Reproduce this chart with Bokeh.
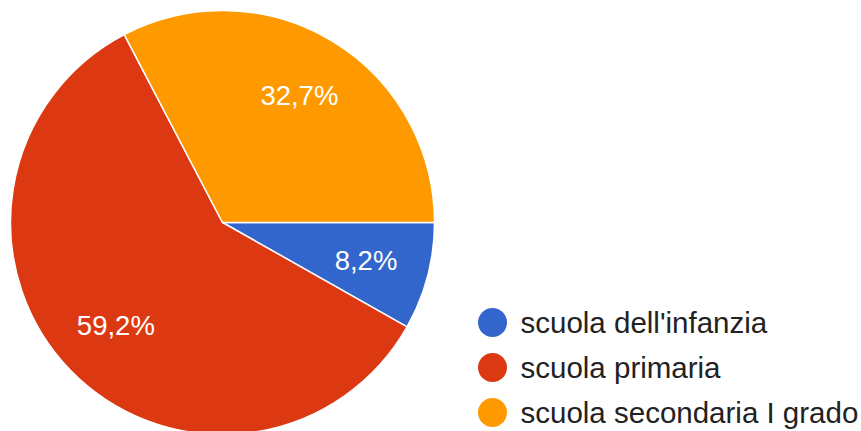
import numpy as np
from bokeh.plotting import figure
from bokeh.models import Range1d, ColumnDataSource
from bokeh.core.properties import value
from bokeh.embed import file_html
from bokeh.resources import INLINE

categories = ["scuola dell'infanzia", "scuola primaria", "scuola secondaria I grado"]
percentages = [8.2, 59.2, 32.7]
labels = ["8,2%", "59,2%", "32,7%"]
colors = ["#3366cc", "#dc3912", "#ff9900"]

W, H = 861, 431
p = figure(width=W, height=H, output_backend="svg", toolbar_location=None,
           x_range=Range1d(0, W), y_range=Range1d(0, H), min_border=0)
p.axis.visible = False
p.grid.visible = False
p.outline_line_color = None
p.background_fill_color = "white"

cx, cy, R = 222, H - 222, 212
vals = np.array(percentages, dtype=float)
frac = vals / vals.sum()
ends = -np.concatenate([[0.0], np.cumsum(frac)[:-1]]) * 2 * np.pi
starts = ends - frac * 2 * np.pi
mids = (starts + ends) / 2

src = ColumnDataSource(dict(start=starts, end=ends, color=colors,
                            lx=cx + 0.7 * R * np.cos(mids),
                            ly=cy + 0.7 * R * np.sin(mids),
                            label=labels))
p.wedge(x=cx, y=cy, radius=R, radius_units="screen", start_angle="start", end_angle="end",
        fill_color="color", line_color="white", line_width=1.5, source=src)
p.text(x="lx", y="ly", text="label", source=src, text_color="white",
       text_font=value("Liberation Sans"), text_font_size="27.5px",
       text_align="center", text_baseline="middle")

# legend
n = len(categories)
leg_y = [H - (322 + 45 * i) for i in range(n)]
lsrc = ColumnDataSource(dict(x=[492] * n, y=leg_y, color=colors, tx=[520] * n, name=categories))
p.scatter(x="x", y="y", size=29, fill_color="color", line_color=None, source=lsrc)
p.text(x="tx", y="y", text="name", source=lsrc, text_color="#222222",
       text_font=value("Liberation Sans"), text_font_size="29.5px",
       text_align="left", text_baseline="middle")

open("out.html", "w").write(file_html(p, INLINE))
